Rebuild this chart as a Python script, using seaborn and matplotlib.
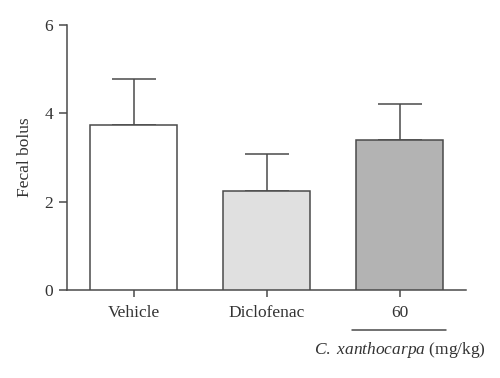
import matplotlib
matplotlib.use("Agg")
import matplotlib.pyplot as plt
import seaborn as sns
import pandas as pd
import numpy as np

categories = ["Vehicle", "Diclofenac", "60"]
means = [3.74, 2.23, 3.39]
errors = [1.02, 0.85, 0.81]
colors = ["#ffffff", "#e0e0e0", "#b3b3b3"]
yticks = [0, 2, 4, 6]

sns.set_theme(style="ticks")
plt.rcParams['font.family'] = ['Liberation Serif', 'DejaVu Serif']
plt.rcParams['mathtext.fontset'] = 'custom'
plt.rcParams['mathtext.rm'] = 'Liberation Serif'
plt.rcParams['mathtext.it'] = 'Liberation Serif:italic'

df = pd.DataFrame({"group": categories, "value": means})

fig = plt.figure(figsize=(5.0, 3.78), dpi=100)
ax = fig.add_axes([0.134, 0.2328, 0.798, 0.702])

edge = "#4a4a4a"
txt = "#333333"
fs = 12.5
sns.barplot(data=df, x="group", y="value", hue="group", palette=colors,
            order=categories, hue_order=categories, width=0.66,
            edgecolor=edge, linewidth=1.1, legend=False, ax=ax, zorder=3, errorbar=None)

xpos = np.arange(len(categories))
ax.errorbar(xpos, means, yerr=[np.zeros(len(means)), errors], fmt="none",
            ecolor=edge, elinewidth=1.1, capsize=16, capthick=1.1, zorder=2)

ax.set_xlim(-0.5, 2.5)
ax.set_ylim(0, 6)
ax.set_yticks(yticks)
ax.set_yticklabels([str(t) for t in yticks])
ax.set_xlabel("")
ax.set_ylabel("Fecal bolus", fontsize=fs, color=txt, labelpad=8)

for s in ["top", "right"]:
    ax.spines[s].set_visible(False)
for s in ["left", "bottom"]:
    ax.spines[s].set_color(edge)
    ax.spines[s].set_linewidth(1.1)

ax.tick_params(axis="y", direction="out", length=6, width=1.1, color=edge,
               labelsize=fs, labelcolor=txt, pad=4)
ax.tick_params(axis="x", direction="out", length=5, width=1.1, color=edge,
               labelsize=fs, labelcolor=txt, pad=6)

# group bracket below "60"
ax.plot([1.64, 2.35], [-0.90, -0.90], color=edge, lw=1.1, clip_on=False)
ax.text(2.0, -1.36, r"$\it{C.\ xanthocarpa}$ (mg/kg)", fontsize=fs,
        ha="center", va="center", color=txt, clip_on=False)

fig.savefig("out.png", dpi=100, facecolor="white")
